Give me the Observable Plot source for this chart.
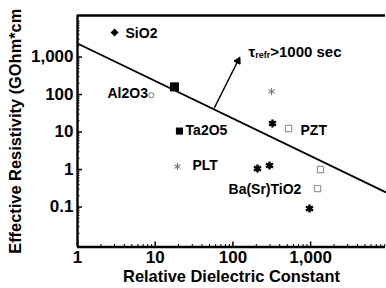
<!DOCTYPE html>
<html><head><meta charset="utf-8">
<script src="https://cdn.jsdelivr.net/npm/d3@7"></script>
<script src="https://cdn.jsdelivr.net/npm/@observablehq/plot@0.6"></script>
<style>body{margin:0;background:#fff}</style>
</head><body><div id="chart"></div>
<script>
// Axis ticks
const xTicks = [1, 10, 100, 1000];
const xTickLabels = ["1", "10", "100", "1,000"];
const yTicks = [0.1, 1, 10, 100, 1000];
const yTickLabels = ["0.1", "1", "10", "100", "1,000"];
const xDomain = [1, 9200];
const yDomain = [0.0086, 12800];

// Series (relative dielectric constant, effective resistivity)
const diamondX = [3.0];            const diamondY = [4500];
const bigSquareX = [17.7];         const bigSquareY = [160];
const smallSquareX = [20.5];       const smallSquareY = [10.6];
const openCircleX = [8.9];         const openCircleY = [95];
const openAsteriskX = [315, 19.3]; const openAsteriskY = [120, 1.2];
const filledStarX = [323, 207, 296, 968];
const filledStarY = [16.9, 1.06, 1.28, 0.091];
const openSquareX = [520, 1340, 1230];
const openSquareY = [12.4, 1.0, 0.31];

// Boundary line tau_refr = 1000 s
const lineX = [1, 9200];
const lineY = [2300, 0.25];

// Arrow
const arrowFrom = [58, 45];
const arrowTo = [122, 970];

// Labels
const labelText = ["SiO2", "Al2O3", "Ta2O5", "PZT", "PLT", "Ba(Sr)TiO2", "τrefr>1000 sec"];
const labelX = [4.15, 2.43, 24.6, 741, 30.2, 87.8, 158.7];
const labelY = [4235, 106, 11.0, 11.0, 1.28, 0.293, 1320];

const minorX = [];
for (const d of [1, 10, 100, 1000]) for (let k = 2; k <= 9; k++) if (d * k < xDomain[1]) minorX.push(d * k);
const minorY = [];
for (const d of [0.01, 0.1, 1, 10, 100, 1000]) for (let k = 2; k <= 9; k++) if (d * k > yDomain[0] && d * k < yDomain[1]) minorY.push(d * k);

const pts = (xs, ys) => xs.map((x, i) => ({x, y: ys[i]}));
const labels = labelText.map((t, i) => ({t, x: labelX[i], y: labelY[i]}));

const chart = Plot.plot({
  width: 386,
  height: 288,
  marginLeft: 77,
  marginRight: 1,
  marginTop: 15,
  marginBottom: 41.5,
  style: {fontFamily: "'Liberation Sans', Arial, sans-serif", fontWeight: "bold", background: "#fff", color: "#000"},
  x: {type: "log", domain: xDomain},
  y: {type: "log", domain: yDomain},
  marks: [
    Plot.axisX({ticks: xTicks, tickFormat: (d) => xTickLabels[xTicks.indexOf(d)], tickSize: -5, tickPadding: 9, fontSize: 17, label: null, strokeWidth: 1.5}),
    Plot.axisX({ticks: minorX, tickFormat: () => "", tickSize: -2.5, label: null}),
    Plot.axisY({ticks: yTicks, tickFormat: (d) => yTickLabels[yTicks.indexOf(d)], tickSize: -5, tickPadding: 9, fontSize: 17, label: null, strokeWidth: 1.5}),
    Plot.axisY({ticks: minorY, tickFormat: () => "", tickSize: -2.5, label: null}),
    Plot.ruleY([yDomain[0], yDomain[1]], {stroke: "#000", strokeWidth: 2.4}),
    Plot.ruleX([xDomain[0]], {stroke: "#000", strokeWidth: 2.4}),
    Plot.text(["Relative Dielectric Constant"], {frameAnchor: "bottom", dy: 35, text: d => d, fontSize: 16.4, fontWeight: "bold"}),
    Plot.text(["Effective Resistivity (GOhm*cm"], {frameAnchor: "left", textAnchor: "middle", dx: -62, rotate: -90, text: d => d, fontSize: 16.4, fontWeight: "bold"}),
    Plot.line(pts(lineX, lineY), {x: "x", y: "y", stroke: "#000", strokeWidth: 1.8}),
    Plot.arrow([{x1: arrowFrom[0], y1: arrowFrom[1], x2: arrowTo[0], y2: arrowTo[1]}], {x1: "x1", y1: "y1", x2: "x2", y2: "y2", stroke: "#000", strokeWidth: 1.5, headLength: 6}),
    Plot.dot([{x: arrowTo[0], y: arrowTo[1]}], {x: "x", y: "y", symbol: "triangle", r: 2.7, fill: "#000", rotate: 26.6, dx: -1.8, dy: 3.7}),
    Plot.dot(pts(diamondX, diamondY), {x: "x", y: "y", symbol: "diamond2", r: 3.6, fill: "#000"}),
    Plot.dot(pts(bigSquareX, bigSquareY), {x: "x", y: "y", symbol: "square", r: 5.1, fill: "#000"}),
    Plot.dot(pts(smallSquareX, smallSquareY), {x: "x", y: "y", symbol: "square", r: 4, fill: "#000"}),
    Plot.dot(pts(openCircleX, openCircleY), {x: "x", y: "y", symbol: "circle", r: 2.6, stroke: "#777", strokeWidth: 1, fill: "none"}),
    Plot.dot(pts(openAsteriskX, openAsteriskY), {x: "x", y: "y", symbol: "asterisk", r: 3.4, stroke: "#666", strokeWidth: 1}),
    Plot.dot(pts(filledStarX, filledStarY), {x: "x", y: "y", symbol: "asterisk", r: 3.8, stroke: "#000", strokeWidth: 2.4}),
    Plot.dot(pts(filledStarX, filledStarY), {x: "x", y: "y", symbol: "circle", r: 2, fill: "#000"}),
    Plot.dot(pts(openSquareX, openSquareY), {x: "x", y: "y", symbol: "square", r: 3.5, stroke: "#999", strokeWidth: 1.2, fill: "none"}),
    Plot.text(labels, {x: "x", y: "y", text: "t", textAnchor: "start", fontSize: 14, fontWeight: "bold", fill: "#000", className: "lbl"})
  ]
});
document.getElementById("chart").appendChild(chart);

// subscript for the tau label
chart.querySelectorAll(".lbl text").forEach(t => {
  if (t.textContent.startsWith("τrefr")) {
    t.textContent = "";
    const ns = "http://www.w3.org/2000/svg";
    const a = document.createElementNS(ns, "tspan"); a.textContent = "τ"; a.setAttribute("font-size", 15);
    const b = document.createElementNS(ns, "tspan"); b.textContent = "refr"; b.setAttribute("font-size", 9); b.setAttribute("dy", 1);
    const c = document.createElementNS(ns, "tspan"); c.textContent = ">1000 sec"; c.setAttribute("font-size", 15); c.setAttribute("dy", -1);
    t.append(a, b, c);
  }
});
</script>
</body></html>
